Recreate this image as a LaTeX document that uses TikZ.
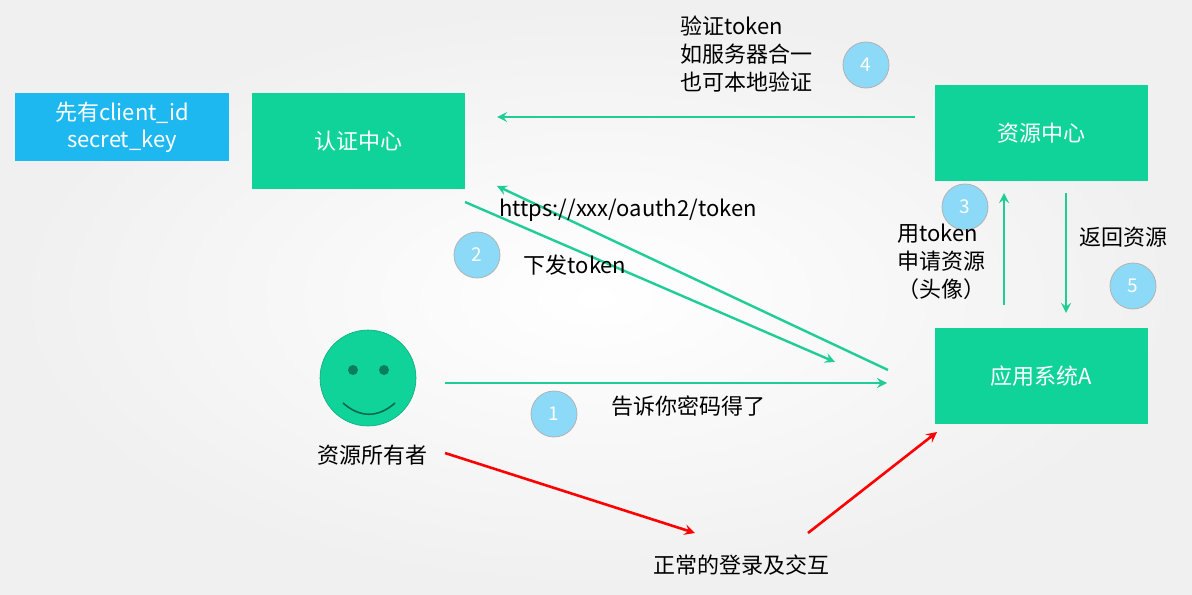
\documentclass[tikz,border=0pt]{standalone}
\usepackage{fontspec}
\setmainfont{Noto Sans CJK SC}
\begin{document}
\begin{tikzpicture}[x=0.5pt,y=-0.5pt,
 box/.style={draw=none,text=white,font=\fontsize{11}{13.5}\selectfont,align=center,inner sep=0},
 num/.style={circle,draw=gray!60,fill=cyan!45!white,text=white,minimum size=23pt,inner sep=0,font=\fontsize{9.5}{11}\selectfont},
 lbl/.style={font=\fontsize{11}{14}\selectfont,align=left,inner sep=0},
 garr/.style={draw={rgb,255:red,32;green,205;blue,150},line width=1.2pt,-stealth},
 rarr/.style={draw=red,line width=1.3pt,-stealth}]
\definecolor{gr}{RGB}{16,211,154}
\definecolor{bl}{RGB}{29,184,240}
\useasboundingbox (0,0) rectangle (1192,594);
\shade[inner color=white,outer color=gray!12] (0,0) rectangle (1192,594);
\fill[bl] (15,93) rectangle (229,161);
\node[box] (cl) at (122,127) {先有client\_id\\secret\_key};
\fill[gr] (252,93) rectangle (465,189);
\node[box] (auth) at (358,141) {认证中心};
\fill[gr] (935,85) rectangle (1148,181);
\node[box] (res) at (1041,133) {资源中心};
\fill[gr] (935,328) rectangle (1148,424);
\node[box] (app) at (1041,376) {应用系统A};
\node[circle,fill=gr,draw=gr!80!black,line width=0.3pt,minimum size=48pt] (face) at (368,378) {};
\fill[gr!60!black] (353,370) circle (5);
\fill[gr!60!black] (384,370) circle (5);
\draw[gr!50!black,line width=0.8pt] (343,403) .. controls (360,418) and (378,418) .. (395,403);
\node[lbl] (owner) at (372,455) {资源所有者};
\coordinate (a4s) at (915,117); \coordinate (a4e) at (497,117);
\draw[garr] (a4s) -- (a4e);
\coordinate (a2s) at (465,202); \coordinate (a2e) at (835,362);
\draw[garr] (a2s) -- (a2e);
\coordinate (aus) at (888,370); \coordinate (aue) at (497,186);
\draw[garr] (aus) -- (aue);
\coordinate (a1s) at (445,383); \coordinate (a1e) at (887,383);
\draw[garr] (a1s) -- (a1e);
\coordinate (a3s) at (1004,305); \coordinate (a3e) at (1004,193);
\draw[garr] (a3s) -- (a3e);
\coordinate (a5s) at (1066,193); \coordinate (a5e) at (1066,313);
\draw[garr] (a5s) -- (a5e);
\coordinate (r1s) at (445,453); \coordinate (r1e) at (695,533);
\draw[rarr] (r1s) -- (r1e);
\coordinate (r2s) at (808,533); \coordinate (r2e) at (937,432);
\draw[rarr] (r2s) -- (r2e);
\node[num] (n1) at (554,414) {1};
\node[num] (n2) at (477,255) {2};
\node[num] (n3) at (965,207) {3};
\node[num] (n4) at (866,65) {4};
\node[num] (n5) at (1133,286) {5};
\node[lbl,anchor=north west] (t4) at (680,15) {验证token\\如服务器合一\\也可本地验证};
\node[lbl] (turl) at (628,210) {https://xxx/oauth2/token};
\node[lbl] (tdown) at (575,265) {下发token};
\node[lbl] (tpwd) at (688,406) {告诉你密码得了};
\node[lbl,align=left,anchor=north west] (t3) at (897,224) {用token\\申请资源\\（头像）};
\node[lbl] (t5) at (1123,237) {返回资源};
\node[lbl] (tlog) at (741,565) {正常的登录及交互};
\end{tikzpicture}
\end{document}
